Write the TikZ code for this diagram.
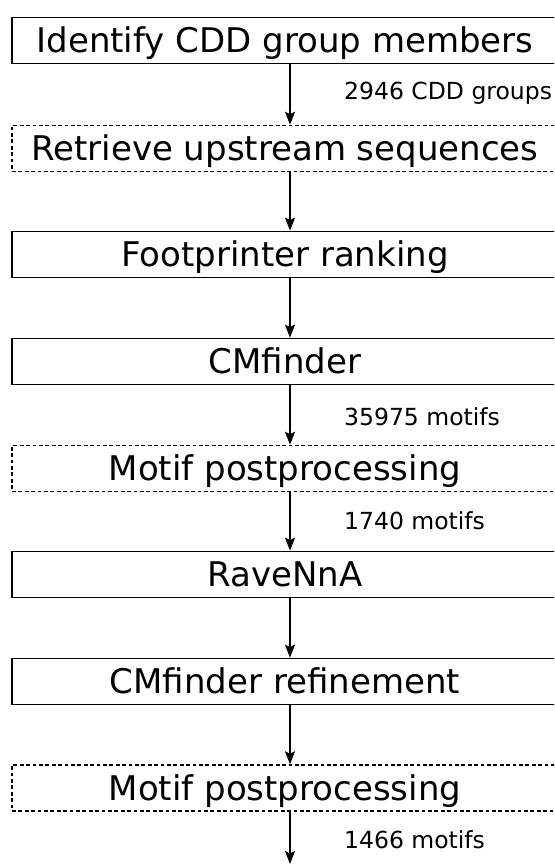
\documentclass[tikz,border=0pt]{standalone}
\usepackage{fontspec}
\setmainfont{DejaVu Sans}
\usetikzlibrary{arrows.meta,calc}

\begin{document}
\begin{tikzpicture}[x=1pt, y=-1pt, >={Stealth[length=13pt,width=10pt,inset=2.5pt]},
  stagebox/.style={draw, line width=1.7pt, minimum width=546pt, minimum height=46pt,
    inner sep=0pt, text height=24.8pt, text depth=0pt,
    font=\fontsize{34}{40}\selectfont},
  optbox/.style={stagebox, line width=1.5pt, dash pattern=on 3.8pt off 2.6pt},
  flow/.style={->, line width=1.5pt},
  countlbl/.style={anchor=base west, inner sep=0pt, font=\fontsize{23.5}{28}\selectfont}]
% ---- page ----
\useasboundingbox (0,0) rectangle (554,864);
\clip (0,0) rectangle (554,864);
\fill[white] (0,0) rectangle (554,864);
\coordinate (axis) at (290,0);
\coordinate (tail) at (290,864);
% ---- pipeline stages ----
\node[stagebox] (ident)   at (285,40.5)  {Identify CDD group members};
\node[optbox]   (retr)    at (285,148.5) {Retrieve upstream sequences};
\node[stagebox] (foot)    at (285,254.5) {Footprinter ranking};
\node[stagebox] (cmf)     at (285,361.5) {CMfinder};
\node[optbox]   (post)    at (285,468.5) {Motif postprocessing};
\node[stagebox] (raven)   at (285,574.5) {RaveNnA};
\node[stagebox] (refine)  at (285,681.5) {CMfinder refinement};
\node[optbox]   (postb)   at (285,788)   {Motif postprocessing};
% ---- arrows ----
\draw[flow] (ident.south -| axis) -- (retr.north -| axis);
\draw[flow] (retr.south -| axis) -- (foot.north -| axis);
\draw[flow] (foot.south -| axis) -- (cmf.north -| axis);
\draw[flow] (cmf.south -| axis) -- (post.north -| axis);
\draw[flow] (post.south -| axis) -- (raven.north -| axis);
\draw[flow] (raven.south -| axis) -- (refine.north -| axis);
\draw[flow] (refine.south -| axis) -- (postb.north -| axis);
\draw[flow] (postb.south -| axis) -- (tail);
% ---- counts ----
\node[countlbl] (ngroups) at (344,100) {2946 CDD groups};
\node[countlbl] (nraw)    at (344,425) {35975 motifs};
\node[countlbl] (nkept)   at (344,529) {1740 motifs};
\node[countlbl] (nfinal)  at (344,848) {1466 motifs};
\end{tikzpicture}
\end{document}
